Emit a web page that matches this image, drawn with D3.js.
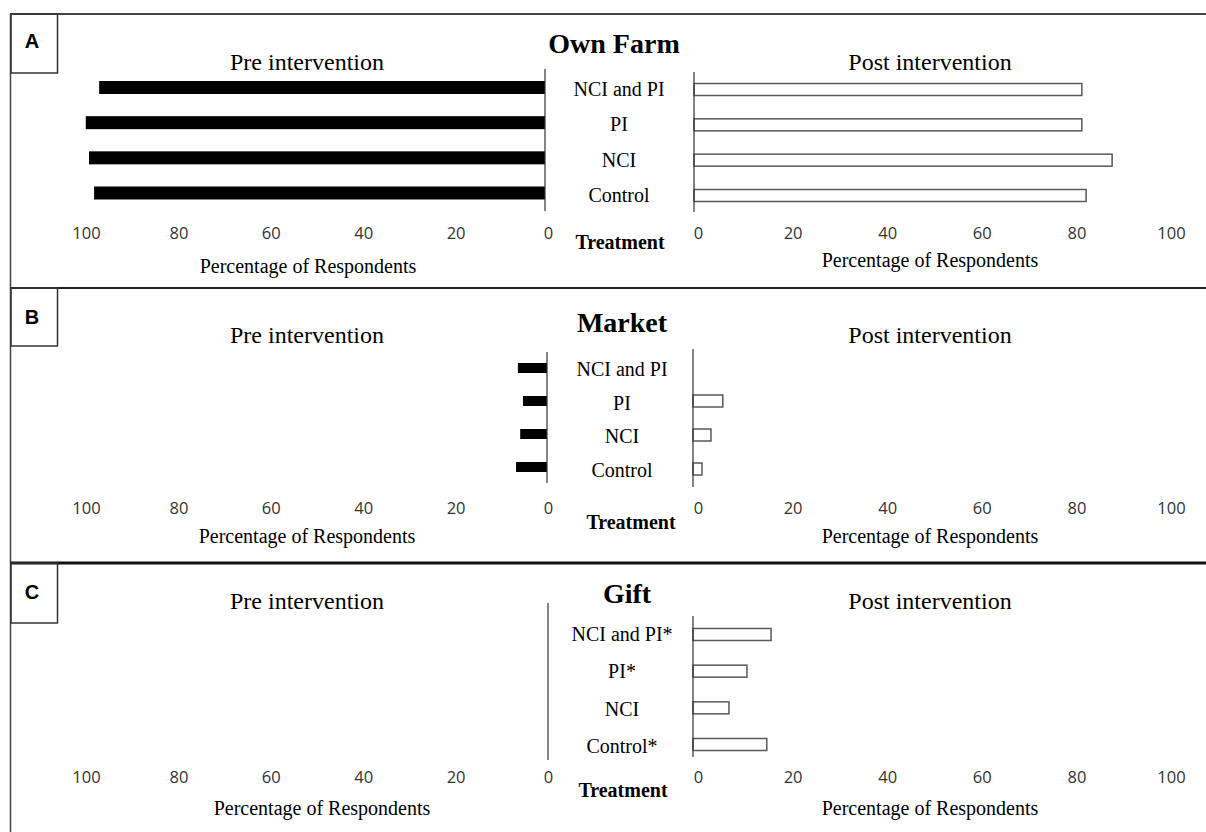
<!DOCTYPE html>
<html>
<head>
<meta charset="utf-8">
<script src="https://cdn.jsdelivr.net/npm/d3@7"></script>
<style>
  html, body { margin: 0; padding: 0; background: #fff; }
  svg { display: block; }
  .serif { font-family: "Liberation Serif", "Times New Roman", serif; fill: #000; }
  .tick text { font-family: "Open Sans", "Liberation Sans", sans-serif; fill: #333; }
</style>
</head>
<body>
<svg id="chart" width="1206" height="832"></svg>
<script>
// Treatment groups, top to bottom
const categories = ["NCI and PI", "PI", "NCI", "Control"];
// Gift groups flagged with * (significant change)
const giftLabels = ["NCI and PI*", "PI*", "NCI", "Control*"];
const panelTitles = ["Own Farm", "Market", "Gift"];
const panelLetters = ["A", "B", "C"];
const axisTicks = [0, 20, 40, 60, 80, 100];

// Percentage of respondents per treatment
const ownFarmPre  = [96.5, 99.4, 98.7, 97.6];
const ownFarmPost = [82.0, 82.0, 88.4, 82.9];
const marketPre   = [6.3, 5.2, 5.8, 6.7];
const marketPost  = [0, 6.3, 3.8, 1.9];
const giftPre     = [0, 0, 0, 0];
const giftPost    = [16.5, 11.4, 7.6, 15.6];

const preSeries  = [ownFarmPre, marketPre, giftPre];
const postSeries = [ownFarmPost, marketPost, giftPost];
const labelSets  = [categories, categories, giftLabels];

// Geometry of each panel
const layout = [
  { top: 14, boxBottom: 73, letterY: 41, titleX: 614, titleY: 43, subY: 62,
    lAxisX: 545, lAxisY: [69, 211], rAxisX: 694, rAxisY: [72, 212],
    lBars: [87.5, 193], rBars: [89.5, 195.5], lBarH: 13, rBarH: 12,
    labX: 619, labY: [89, 195], tickY: 233, treatX: 620, treatY: 242,
    pctL: [308, 266], pctR: [930, 260] },
  { top: 288, boxBottom: 346, letterY: 317, titleX: 622, titleY: 322, subY: 335,
    lAxisX: 547, lAxisY: [352, 483], rAxisX: 693, rAxisY: [349, 487],
    lBars: [368, 467], rBars: [367, 469], lBarH: 10, rBarH: 12,
    labX: 622, labY: [369, 470], tickY: 508, treatX: 631, treatY: 522,
    pctL: [307, 536], pctR: [930, 536] },
  { top: 563, boxBottom: 623, letterY: 592, titleX: 627, titleY: 593, subY: 601,
    lAxisX: 548, lAxisY: [603, 760], rAxisX: 693, rAxisY: [616, 757],
    lBars: [620, 745], rBars: [634.5, 744.5], lBarH: 13, rBarH: 12,
    labX: 622, labY: [634, 746], tickY: 777, treatX: 623, treatY: 790,
    pctL: [322, 808], pctR: [930, 808] }
];

const svg = d3.select("#chart");

// Outer frame: left and top rules plus panel separators
svg.append("line").attr("x1", 10.5).attr("x2", 10.5).attr("y1", 14).attr("y2", 832)
  .attr("stroke", "#444").attr("stroke-width", 1.5);
svg.append("line").attr("x1", 10).attr("x2", 1206).attr("y1", 14).attr("y2", 14)
  .attr("stroke", "#444").attr("stroke-width", 2);
svg.append("line").attr("x1", 10).attr("x2", 1206).attr("y1", 288).attr("y2", 288)
  .attr("stroke", "#222").attr("stroke-width", 2);
svg.append("line").attr("x1", 10).attr("x2", 1206).attr("y1", 563).attr("y2", 563)
  .attr("stroke", "#111").attr("stroke-width", 3);

// Shared tick-label scales
const leftTickScale = d3.scaleLinear().domain([0, 100]).range([548, 86]);
const rightTickScale = d3.scaleLinear().domain([0, 100]).range([698, 1171]);

layout.forEach((L, i) => {
  const g = svg.append("g");

  // Panel letter box
  g.append("rect").attr("x", 11).attr("y", L.top).attr("width", 46.5)
    .attr("height", L.boxBottom - L.top)
    .attr("fill", "none").attr("stroke", "#333").attr("stroke-width", 1.5);
  g.append("text").attr("x", 32).attr("y", L.letterY)
    .attr("text-anchor", "middle").attr("dominant-baseline", "central")
    .style("font-family", "'Liberation Sans', Arial, sans-serif")
    .style("font-weight", "bold").style("font-size", "20px")
    .text(panelLetters[i]);

  // Titles
  g.append("text").attr("class", "serif").attr("x", L.titleX).attr("y", L.titleY)
    .attr("text-anchor", "middle").attr("dominant-baseline", "central")
    .style("font-weight", "bold").style("font-size", "28px").text(panelTitles[i]);
  g.append("text").attr("class", "serif").attr("x", 307).attr("y", L.subY)
    .attr("text-anchor", "middle").attr("dominant-baseline", "central")
    .style("font-size", "24px").text("Pre intervention");
  g.append("text").attr("class", "serif").attr("x", 930).attr("y", L.subY)
    .attr("text-anchor", "middle").attr("dominant-baseline", "central")
    .style("font-size", "24px").text("Post intervention");

  // Value scales (pre grows leftwards, post rightwards)
  const xPre = d3.scaleLinear().domain([0, 100]).range([L.lAxisX, L.lAxisX - 462]);
  const xPost = d3.scaleLinear().domain([0, 100]).range([L.rAxisX, L.rAxisX + 473]);
  const yPre = d3.scalePoint().domain(categories).range(L.lBars);
  const yPost = d3.scalePoint().domain(categories).range(L.rBars);
  const yLab = d3.scalePoint().domain(labelSets[i]).range(L.labY);

  const pre = categories.map((c, k) => ({ c, v: preSeries[i][k] })).filter(d => d.v > 0);
  const post = categories.map((c, k) => ({ c, v: postSeries[i][k] })).filter(d => d.v > 0);

  g.selectAll(".pre").data(pre).join("rect").attr("class", "pre")
    .attr("x", d => xPre(d.v)).attr("width", d => xPre(0) - xPre(d.v))
    .attr("y", d => yPre(d.c) - L.lBarH / 2).attr("height", L.lBarH)
    .attr("fill", "#000");

  g.selectAll(".post").data(post).join("rect").attr("class", "post")
    .attr("x", d => xPost(0)).attr("width", d => xPost(d.v) - xPost(0))
    .attr("y", d => yPost(d.c) - L.rBarH / 2).attr("height", L.rBarH)
    .attr("fill", "#fff").attr("stroke", "#5a5a5a").attr("stroke-width", 1.5);

  // Vertical zero lines
  g.append("line").attr("x1", L.lAxisX).attr("x2", L.lAxisX)
    .attr("y1", L.lAxisY[0]).attr("y2", L.lAxisY[1])
    .attr("stroke", "#333").attr("stroke-width", 1.2);
  g.append("line").attr("x1", L.rAxisX).attr("x2", L.rAxisX)
    .attr("y1", L.rAxisY[0]).attr("y2", L.rAxisY[1])
    .attr("stroke", "#333").attr("stroke-width", 1.2);

  // Treatment labels
  g.selectAll(".cat").data(labelSets[i]).join("text").attr("class", "serif cat")
    .attr("x", L.labX).attr("y", d => yLab(d))
    .attr("text-anchor", "middle").attr("dominant-baseline", "central")
    .style("font-size", "20px").text(d => d);

  // Tick labels
  const axL = g.append("g").attr("transform", `translate(0,${L.tickY})`)
    .call(d3.axisBottom(leftTickScale).tickValues(axisTicks).tickSize(0).tickPadding(0));
  const axR = g.append("g").attr("transform", `translate(0,${L.tickY})`)
    .call(d3.axisBottom(rightTickScale).tickValues(axisTicks).tickSize(0).tickPadding(0));
  [axL, axR].forEach(ax => {
    ax.select(".domain").remove();
    ax.selectAll(".tick text").attr("y", 0).attr("dy", "0.35em")
      .style("font-size", "16.5px");
  });

  g.append("text").attr("class", "serif").attr("x", L.treatX).attr("y", L.treatY)
    .attr("text-anchor", "middle").attr("dominant-baseline", "central")
    .style("font-weight", "bold").style("font-size", "20px").text("Treatment");

  g.append("text").attr("class", "serif").attr("x", L.pctL[0]).attr("y", L.pctL[1])
    .attr("text-anchor", "middle").attr("dominant-baseline", "central")
    .style("font-size", "20px").text("Percentage of Respondents");
  g.append("text").attr("class", "serif").attr("x", L.pctR[0]).attr("y", L.pctR[1])
    .attr("text-anchor", "middle").attr("dominant-baseline", "central")
    .style("font-size", "20px").text("Percentage of Respondents");
});
</script>
</body>
</html>
